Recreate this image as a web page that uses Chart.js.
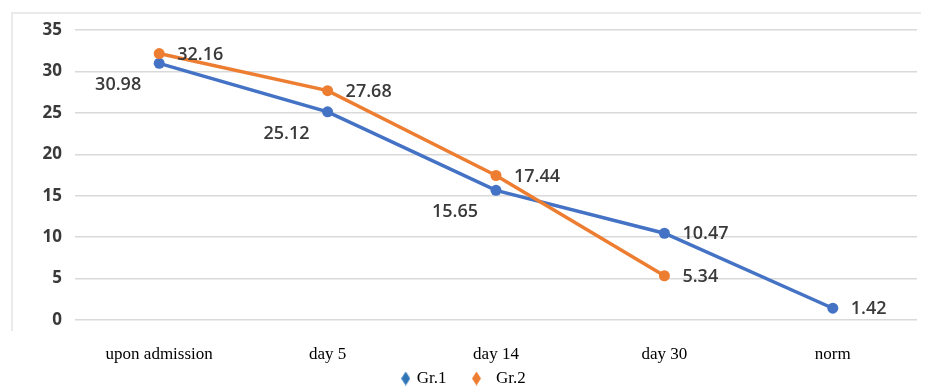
<!DOCTYPE html>
<html>
<head>
<meta charset="utf-8">
<script src="https://cdn.jsdelivr.net/npm/chart.js@4.4.0/dist/chart.umd.min.js"></script>
<style>
    html, body { margin: 0; padding: 0; background: #fff; }
    #wrap { width: 941px; height: 392px; position: relative; }
</style>
</head>
<body>
<div id="wrap"><canvas id="chart"></canvas></div>
<script>
const categories = ['upon admission', 'day 5', 'day 14', 'day 30', 'norm'];
const gr1Values = [30.98, 25.12, 15.65, 10.47, 1.42];
const gr2Values = [32.16, 27.68, 17.44, 5.34, null];
const yTicks = [0, 5, 10, 15, 20, 25, 30, 35];

// side of the point where each value label sits
const gr1LabelSide = ['left', 'left', 'left', 'right', 'right'];
const gr2LabelSide = ['right', 'right', 'right', 'right', 'right'];

const serif = '"Liberation Serif", "Times New Roman", serif';
const sans = '"Open Sans", "Noto Sans", sans-serif';

// narrow diamond used as legend marker
function diamond(color) {
    const cv = document.createElement('canvas');
    cv.width = 9;
    cv.height = 14;
    const g = cv.getContext('2d');
    g.fillStyle = color;
    g.beginPath();
    g.moveTo(4.5, 0);
    g.lineTo(9, 7);
    g.lineTo(4.5, 14);
    g.lineTo(0, 7);
    g.closePath();
    g.fill();
    return cv;
}

const framePlugin = {
    id: 'frame',
    beforeDraw(chart) {
        const c = chart.ctx;
        c.save();
        c.fillStyle = '#fff';
        c.fillRect(0, 0, chart.width, chart.height);
        c.strokeStyle = '#e4e4e4';
        c.lineWidth = 1.5;
        c.beginPath();
        c.moveTo(12, 331);
        c.lineTo(12, 13);
        c.lineTo(921, 13);
        c.stroke();
        c.restore();
    }
};

const valueLabels = {
    id: 'valueLabels',
    afterDatasetsDraw(chart) {
        const c = chart.ctx;
        c.save();
        c.font = '600 18px ' + sans;
        c.fillStyle = '#3a3a3a';
        c.textBaseline = 'middle';
        chart.data.datasets.forEach((ds, i) => {
            const meta = chart.getDatasetMeta(i);
            meta.data.forEach((pt, j) => {
                const v = ds.data[j];
                if (v === null || v === undefined) return;
                if (ds.labelSide[j] === 'left') {
                    c.textAlign = 'right';
                    c.fillText(v.toFixed(2), pt.x - 18, pt.y + 22);
                } else {
                    c.textAlign = 'left';
                    c.fillText(v.toFixed(2), pt.x + 18, pt.y + 1);
                }
            });
        });
        c.restore();
    }
};

const legendMarks = [diamond('#2E75B6'), diamond('#ED7D31')];
const legendText = ['Gr.1\u2002\u2002\u2002', '\u2002Gr.2'];

new Chart(document.getElementById('chart'), {
    type: 'line',
    data: {
        labels: categories,
        datasets: [
            {
                label: 'Gr.1',
                data: gr1Values,
                labelSide: gr1LabelSide,
                borderColor: '#4472C4',
                backgroundColor: '#4472C4',
                pointBackgroundColor: '#4472C4',
                borderWidth: 3.5,
                pointRadius: 5.5,
                pointBorderWidth: 0,
                tension: 0,
                order: 1
            },
            {
                label: 'Gr.2',
                data: gr2Values,
                labelSide: gr2LabelSide,
                borderColor: '#ED7D31',
                backgroundColor: '#ED7D31',
                pointBackgroundColor: '#ED7D31',
                borderWidth: 3.5,
                pointRadius: 5.5,
                pointBorderWidth: 0,
                tension: 0,
                order: 0
            }
        ]
    },
    options: {
        responsive: true,
        maintainAspectRatio: false,
        animation: false,
        layout: {
            padding: { left: 12, right: 24, top: 30, bottom: -5 }
        },
        scales: {
            x: {
                offset: true,
                grid: { display: false },
                border: { display: false },
                ticks: {
                    padding: 16.5,
                    color: '#000',
                    maxRotation: 0,
                    autoSkip: false,
                    font: { family: serif, size: 17 }
                },
                afterFit(scale) { scale.height = 48; }
            },
            y: {
                min: yTicks[0],
                max: yTicks[yTicks.length - 1],
                border: { display: false },
                grid: { color: '#d9d9d9', lineWidth: 1.5, drawTicks: false },
                ticks: {
                    stepSize: yTicks[1] - yTicks[0],
                    padding: 13,
                    color: '#3a3a3a',
                    font: { family: sans, size: 17, weight: '700' }
                },
                afterFit(scale) { scale.width = 63; }
            }
        },
        plugins: {
            tooltip: { enabled: false },
            legend: {
                position: 'bottom',
                labels: {
                    usePointStyle: true,
                    pointStyleWidth: 5,
                    padding: 2,
                    color: '#000',
                    font: { family: serif, size: 17 },
                    generateLabels(chart) {
                        return chart.data.datasets.map((ds, i) => ({
                            text: legendText[i],
                            fillStyle: ds.borderColor,
                            strokeStyle: ds.borderColor,
                            lineWidth: 0,
                            pointStyle: legendMarks[i],
                            fontColor: '#000',
                            hidden: false,
                            datasetIndex: i
                        }));
                    }
                }
            }
        }
    },
    plugins: [framePlugin, valueLabels]
});
</script>
</body>
</html>
